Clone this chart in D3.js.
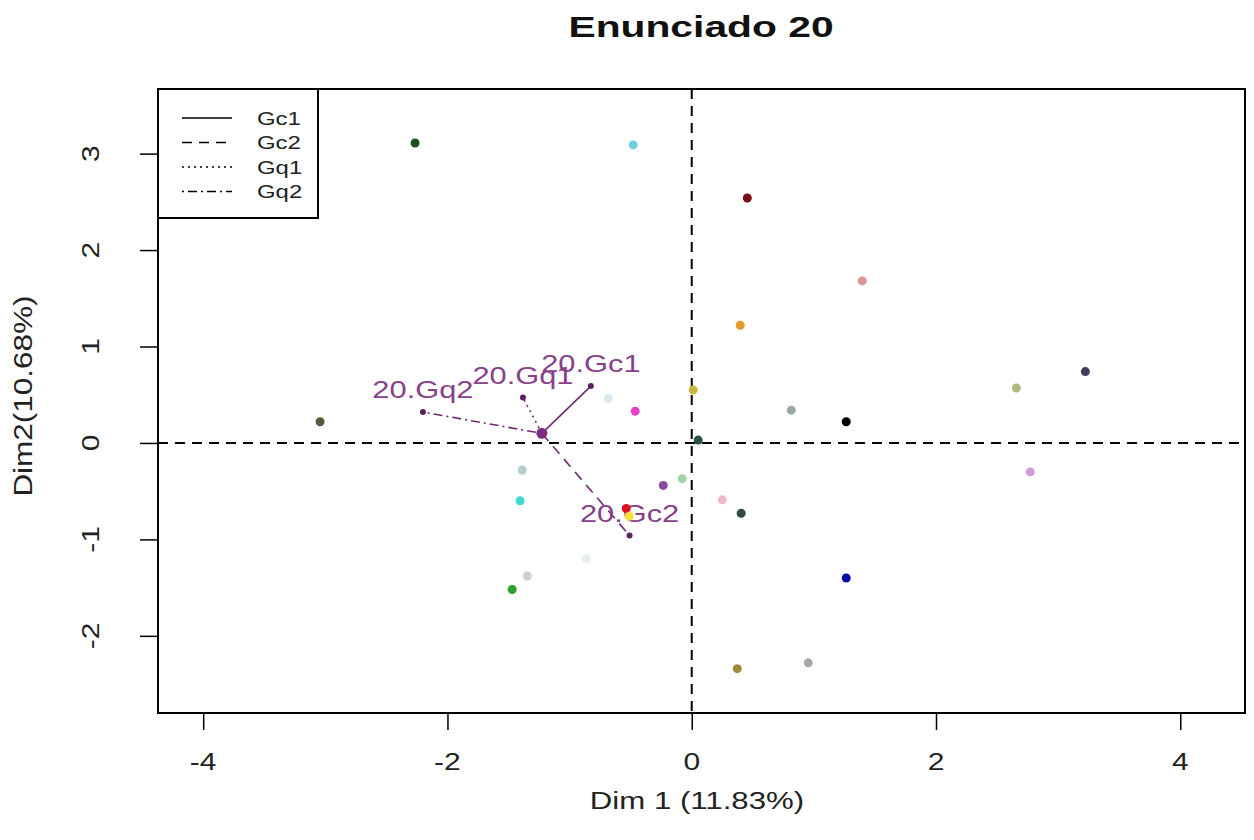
<!DOCTYPE html>
<html>
<head>
<meta charset="utf-8">
<script src="https://cdn.jsdelivr.net/npm/d3@7"></script>
<style>
  html, body { margin: 0; padding: 0; background: #fff; }
  svg { display: block; }
  text { font-family: "Liberation Sans", Arial, sans-serif; }
</style>
</head>
<body>
<svg id="chart" width="1254" height="840"></svg>
<script>
// Individuals on the first factorial plane
const pointX = [-2.265, -0.479, 0.455, 1.396, 0.397, 0.012, 0.815, 1.265, 0.053, 2.658,
                3.223, 2.772, 0.250, 0.405, -0.078, -0.233, -0.463, -0.684, -0.536, -0.512,
                -1.388, -1.405, -1.347, -1.470, -0.864, 1.265, 0.373, 0.954, -3.043];
const pointY = [3.11, 3.09, 2.54, 1.68, 1.22, 0.55, 0.34, 0.22, 0.03, 0.57,
                0.74, -0.30, -0.59, -0.73, -0.37, -0.44, 0.33, 0.46, -0.68, -0.76,
                -0.28, -0.60, -1.38, -1.52, -1.20, -1.40, -2.34, -2.28, 0.22];
const pointColor = ["#1e4f1e", "#6fd0dc", "#7a0a14", "#d9958f", "#e59a2a", "#c9b640", "#9aaa9e", "#000000", "#2f5046", "#b3b87e",
                    "#3c3c5c", "#d69ad8", "#f2b8c6", "#2f4a40", "#a3d4a3", "#8a4aa0", "#e93ecb", "#d8e8ef", "#d9141c", "#f5e040",
                    "#b8ccd0", "#40d8d0", "#cfcfcf", "#2ea02e", "#e6eef0", "#0a0aa8", "#a08a3a", "#a8a8a8", "#555a3a"];

// Partial points of individual 20 and its mean position
const centerX = -1.227;
const centerY = 0.10;
const groupNames = ["20.Gc1", "20.Gc2", "20.Gq1", "20.Gq2"];
const groupX = [-0.826, -0.509, -1.382, -2.201];
const groupY = [0.59, -0.96, 0.47, 0.32];
const legendLabels = ["Gc1", "Gc2", "Gq1", "Gq2"];

const xTicks = [-4, -2, 0, 2, 4];
const yTicks = [-2, -1, 0, 1, 2, 3];

const chartTitle = "Enunciado 20";
const xTitle = "Dim 1 (11.83%)";
const yTitle = "Dim2(10.68%)";

// ---- layout ----
const L = 158, R = 1245, T = 89, B = 713;
const svg = d3.select("#chart");
const x = d3.scaleLinear().domain([-4.37, 4.53]).range([L, R]);
const y = d3.scaleLinear().domain([-2.80, 3.67]).range([B, T]);

const dashes = ["none", "10,7", "2,4", "2,4,9,4"];
const purple = "#88408a";

// text drawn with a horizontal stretch
function stext(g, px, py, str, o) {
  return g.append("text")
    .attr("transform", `translate(${px},${py}) rotate(${o.rotate || 0}) scale(${o.sx || 1},1)`)
    .attr("text-anchor", o.anchor || "middle")
    .attr("font-size", o.size)
    .attr("font-weight", o.weight || "normal")
    .attr("fill", o.fill || "#000")
    .text(str);
}

// title
stext(svg, 701, 37, chartTitle, {size: 30, sx: 1.36, weight: "bold", fill: "#111"});

// axes
const xAxis = d3.axisBottom(x).tickValues(xTicks).tickSize(17).tickFormat("");
const gx = svg.append("g").attr("transform", `translate(0,${B})`).call(xAxis);
gx.select(".domain").remove();
gx.selectAll(".tick line").attr("stroke", "#000").attr("stroke-width", 1.5);

const yAxis = d3.axisLeft(y).tickValues(yTicks).tickSize(18).tickFormat("");
const gy = svg.append("g").attr("transform", `translate(${L},0)`).call(yAxis);
gy.select(".domain").remove();
gy.selectAll(".tick line").attr("stroke", "#000").attr("stroke-width", 1.5);

xTicks.forEach(v => stext(svg, x(v), 770, String(v), {size: 24, sx: 1.25, fill: "#222"}));
yTicks.forEach(v => stext(svg, 99, y(v), String(v), {size: 24, sx: 1.25, rotate: -90, fill: "#222"}));

stext(svg, 697, 809, xTitle, {size: 24, sx: 1.3, fill: "#222"});
stext(svg, 32, 396, yTitle, {size: 25, sx: 1.26, rotate: -90, fill: "#222"});

// reference lines
const plot = svg.append("g");
plot.append("line").attr("x1", L).attr("x2", R).attr("y1", y(0)).attr("y2", y(0))
  .attr("stroke", "#000").attr("stroke-width", 2).attr("stroke-dasharray", "10,7");
plot.append("line").attr("x1", x(0)).attr("x2", x(0)).attr("y1", T).attr("y2", B)
  .attr("stroke", "#000").attr("stroke-width", 2).attr("stroke-dasharray", "10,7");

// segments from the mean point to each partial point, with their labels
groupNames.forEach((name, i) => {
  plot.append("line")
    .attr("x1", x(centerX)).attr("y1", y(centerY))
    .attr("x2", x(groupX[i])).attr("y2", y(groupY[i]))
    .attr("stroke", "#6e2a70").attr("stroke-width", 1.6)
    .attr("stroke-dasharray", dashes[i]);
  plot.append("circle")
    .attr("cx", x(groupX[i])).attr("cy", y(groupY[i]))
    .attr("r", 3).attr("fill", "#5e2060");
  stext(plot, x(groupX[i]), y(groupY[i]) - 14, name, {size: 23, sx: 1.34, fill: purple});
});

// individuals
plot.selectAll("circle.ind").data(pointX).enter().append("circle")
  .attr("class", "ind")
  .attr("cx", (d) => x(d))
  .attr("cy", (d, i) => y(pointY[i]))
  .attr("r", 4.5)
  .attr("fill", (d, i) => pointColor[i]);

plot.append("circle").attr("cx", x(centerX)).attr("cy", y(centerY)).attr("r", 5.5).attr("fill", "#7b2b80");

// frame
svg.append("rect").attr("x", L).attr("y", T).attr("width", R - L).attr("height", B - T)
  .attr("fill", "none").attr("stroke", "#000").attr("stroke-width", 2);

// legend
const lg = svg.append("g");
lg.append("rect").attr("x", L).attr("y", T).attr("width", 160).attr("height", 129)
  .attr("fill", "#fff").attr("stroke", "#000").attr("stroke-width", 2);
legendLabels.forEach((lab, i) => {
  const ry = 118 + i * 24.5;
  lg.append("line").attr("x1", 182).attr("x2", 232).attr("y1", ry).attr("y2", ry)
    .attr("stroke", "#000").attr("stroke-width", 1.6).attr("stroke-dasharray", dashes[i]);
  stext(lg, 257, ry + 6.5, lab, {size: 18, sx: 1.33, anchor: "start", fill: "#222"});
});
</script>
</body>
</html>
